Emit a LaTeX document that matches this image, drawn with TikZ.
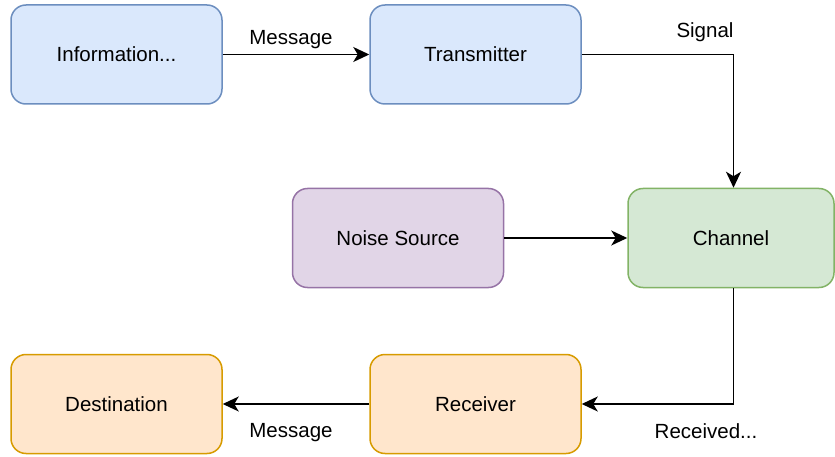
\documentclass[tikz,border=0pt]{standalone}
\usepackage{fontspec}
\setmainfont{Liberation Sans}
\usetikzlibrary{arrows.meta}
\definecolor{bluefill}{HTML}{DAE8FC}\definecolor{bluedraw}{HTML}{6C8EBF}
\definecolor{greenfill}{HTML}{D5E8D4}\definecolor{greendraw}{HTML}{82B366}
\definecolor{purplefill}{HTML}{E1D5E7}\definecolor{purpledraw}{HTML}{9673A6}
\definecolor{orangefill}{HTML}{FFE6CC}\definecolor{orangedraw}{HTML}{D79B00}
\tikzset{
  block/.style={rounded corners=15pt, line width=1.5pt, minimum width=211pt, minimum height=99pt,
    inner sep=0pt, font=\fontsize{20.5}{24}\selectfont},
  bluebox/.style={block, fill=bluefill, draw=bluedraw},
  greenbox/.style={block, fill=greenfill, draw=greendraw},
  purplebox/.style={block, fill=purplefill, draw=purpledraw},
  orangebox/.style={block, fill=orangefill, draw=orangedraw},
  conn/.style={line width=1.6pt, -{Stealth[length=16pt,width=15pt,inset=4.5pt]}},
  lbl/.style={font=\fontsize{20.5}{24}\selectfont, inner sep=0pt}
}
\begin{document}
\begin{tikzpicture}[x=1pt,y=-1pt]
\useasboundingbox (0,0) rectangle (835,457);
\node[bluebox] (info) at (116.5,54.5) {Information...};
\node[bluebox] (tx) at (475.5,54.5) {Transmitter};
\node[greenbox, minimum width=206pt] (ch) at (731,238) {Channel};
\node[purplebox] (noise) at (398,238) {Noise Source};
\node[orangebox] (dest) at (116.5,404) {Destination};
\node[orangebox] (rx) at (475.5,404) {Receiver};

\draw[conn] (info) -- (tx);
\draw[conn] (tx.east) -| ([xshift=2.5pt]ch.north);
\draw[conn] (noise) -- (ch);
\draw[conn] ([xshift=2.5pt]ch.south) |- (rx.east);
\draw[conn] (rx) -- (dest);

\node[lbl] (lmsg1) at (291,40) {Message};
\node[lbl] (lsig) at (705,32) {Signal};
\node[lbl] (lrecv) at (706,431) {Received...};
\node[lbl] (lmsg2) at (291,433) {Message};
\end{tikzpicture}
\end{document}
